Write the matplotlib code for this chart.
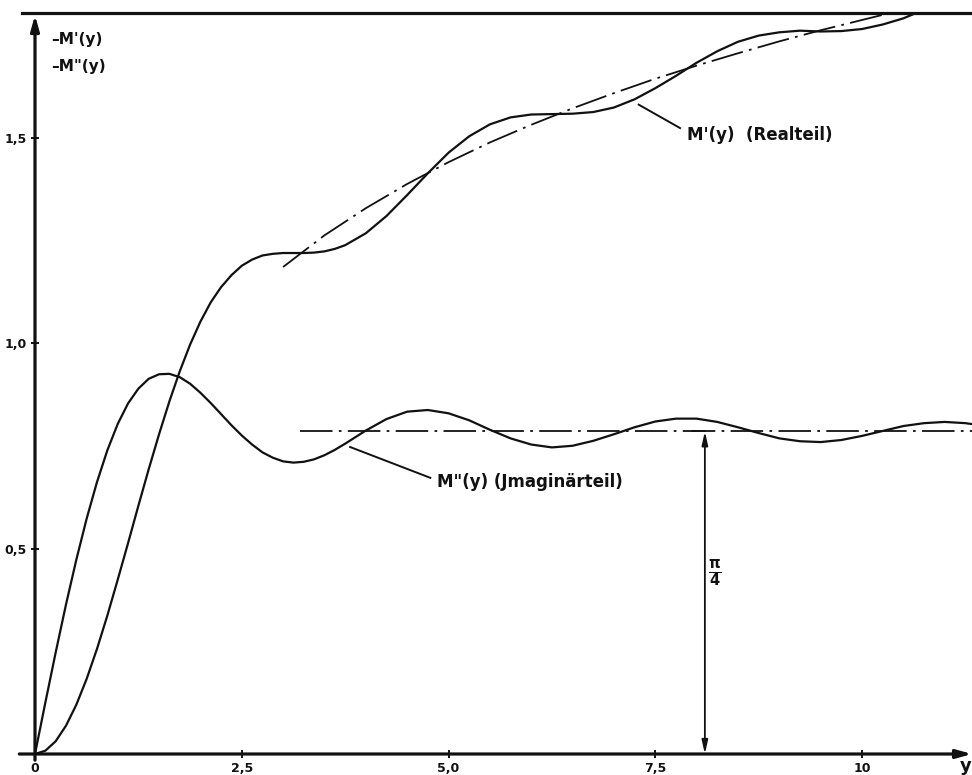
import matplotlib
matplotlib.use("Agg")
import matplotlib.pyplot as plt

# values (finer step on the steep first part)
y_vals = [0.0, 0.125, 0.25, 0.375, 0.5, 0.625, 0.75, 0.875, 1.0, 1.125,
          1.25, 1.375, 1.5, 1.625, 1.75, 1.875, 2.0, 2.125, 2.25, 2.375,
          2.5, 2.625, 2.75, 2.875, 3.0, 3.125, 3.25, 3.375, 3.5, 3.625,
          3.75, 4.0, 4.25, 4.5, 4.75, 5.0, 5.25, 5.5, 5.75,
          6.0, 6.25, 6.5, 6.75, 7.0, 7.25, 7.5, 7.75, 8.0, 8.25, 8.5, 8.75,
          9.0, 9.25, 9.5, 9.75, 10.0, 10.25, 10.5, 10.75, 11.0, 11.25, 11.5]

# M'(y)  Realteil
real_part = [0.0, 0.008, 0.031, 0.069, 0.120, 0.183, 0.256, 0.337, 0.424, 0.513,
             0.604, 0.693, 0.778, 0.858, 0.931, 0.996, 1.052, 1.099, 1.136, 1.165,
             1.188, 1.203, 1.213, 1.217, 1.219, 1.219, 1.219, 1.220, 1.223, 1.229,
             1.238, 1.267, 1.309, 1.360, 1.413, 1.463, 1.503, 1.532, 1.549,
             1.556, 1.557, 1.558, 1.562, 1.573, 1.593, 1.620, 1.650, 1.682, 1.710,
             1.733, 1.748, 1.756, 1.760, 1.758, 1.759, 1.764, 1.775, 1.790, 1.811]

# M''(y)  Imaginaerteil
imag_part = [0.0, 0.125, 0.247, 0.364, 0.473, 0.573, 0.662, 0.739, 0.803, 0.853,
             0.889, 0.913, 0.924, 0.925, 0.917, 0.901, 0.879, 0.854, 0.827, 0.800,
             0.775, 0.753, 0.734, 0.721, 0.712, 0.709, 0.711, 0.717, 0.727, 0.740,
             0.755, 0.787, 0.815, 0.833, 0.837, 0.829, 0.812, 0.789, 0.768,
             0.753, 0.746, 0.750, 0.762, 0.778, 0.795, 0.809, 0.816, 0.816, 0.808,
             0.795, 0.781, 0.768, 0.761, 0.759, 0.764, 0.774, 0.786, 0.798, 0.805,
             0.808, 0.805, 0.798]

# dash-dot trend of the real part
trend_y = [3.0, 3.5, 4.0, 4.5, 5.0, 5.5, 6.0, 6.5, 7.0, 7.5, 8.0, 8.5, 9.0,
           9.5, 10.0, 10.3]
trend_val = [1.185, 1.262, 1.328, 1.387, 1.440, 1.488, 1.531, 1.571, 1.608,
             1.643, 1.675, 1.705, 1.734, 1.761, 1.786, 1.801]

# dash-dot limit of the imaginary part (pi/4)
limit_y = [3.2, 11.4]
limit_val = [0.785, 0.785]

x_ticks = [0, 2.5, 5.0, 7.5, 10]
x_ticklabels = ["0", "2,5", "5,0", "7,5", "10"]
y_ticks = [0.5, 1.0, 1.5]
y_ticklabels = ["0,5", "1,0", "1,5"]

XMAX, YMAX = 11.33, 1.803

fig = plt.figure(figsize=(9.72, 7.75), dpi=100)
ax = fig.add_axes([35 / 972, 21 / 775, 937 / 972, 741 / 775])
ax.set_xlim(0, XMAX)
ax.set_ylim(0, YMAX)
for s in ax.spines.values():
    s.set_visible(False)

ink = "#111111"
n_real = len(real_part)
ax.plot(y_vals[:n_real], real_part, color=ink, lw=1.6, solid_joinstyle="round")
ax.plot(y_vals, imag_part, color=ink, lw=1.6, solid_joinstyle="round",
        clip_on=False)

dd = (0, (18, 3.5, 1.5, 3.5))
ax.plot(trend_y, trend_val, color=ink, lw=1.3, linestyle=dd)
ax.plot(limit_y, limit_val, color=ink, lw=1.3, linestyle=dd, clip_on=False)

# frame lines: axes with arrows and top border
arrow_kw = dict(arrowstyle="-|>,head_length=0.9,head_width=0.25", lw=2.3,
                color=ink, shrinkA=0, shrinkB=0)
ax.annotate("", xy=(XMAX, 0), xytext=(-0.19, 0), arrowprops=arrow_kw,
            annotation_clip=False)
ax.annotate("", xy=(0, YMAX - 0.005), xytext=(0, -0.015), arrowprops=arrow_kw,
            annotation_clip=False)
ax.plot([-0.16, XMAX], [YMAX, YMAX], color=ink, lw=2.3, clip_on=False)

# pi/4 double arrow
x_arrow = 8.1
ax.annotate("", xy=(x_arrow, 0.785), xytext=(x_arrow, 0.0),
            arrowprops=dict(arrowstyle="<|-|>,head_length=0.8,head_width=0.18",
                            lw=1.3, color=ink, shrinkA=0, shrinkB=0))
ax.plot([7.95, x_arrow], [0.785, 0.785], color=ink, lw=1.2)
ax.text(x_arrow + 0.04, 0.44, r"$\mathbf{\frac{\pi}{4}}$", fontsize=15,
        color=ink, ha="left", va="center")

# curve labels with leader lines
ax.plot([7.3, 7.8], [1.58, 1.523], color=ink, lw=1.4)
ax.text(7.88, 1.506, "M'(y)  (Realteil)", fontsize=12, fontweight="bold",
        color=ink, ha="left", va="center")
ax.plot([3.81, 4.78], [0.747, 0.672], color=ink, lw=1.4)
ax.text(4.86, 0.662, 'M"(y) (Jmaginärteil)', fontsize=12, fontweight="bold",
        color=ink, ha="left", va="center")

# axis titles
ax.text(0.2, 1.738, "–M'(y)", fontsize=11, fontweight="bold", color=ink,
        ha="left", va="center")
ax.text(0.2, 1.672, '–M"(y)', fontsize=11, fontweight="bold", color=ink,
        ha="left", va="center")
ax.text(XMAX - 0.01, -0.03, "y", fontsize=13, color=ink, ha="right",
        va="center", fontweight="bold", clip_on=False)

ax.set_xticks(x_ticks)
ax.set_xticklabels(x_ticklabels, fontweight="bold", fontsize=9)
ax.set_yticks(y_ticks)
ax.set_yticklabels(y_ticklabels, fontweight="bold", fontsize=9)
ax.tick_params(axis="both", direction="inout", length=6, width=1.4,
               color=ink, labelcolor=ink, pad=3)

fig.savefig("out.png", dpi=100, facecolor="white")
